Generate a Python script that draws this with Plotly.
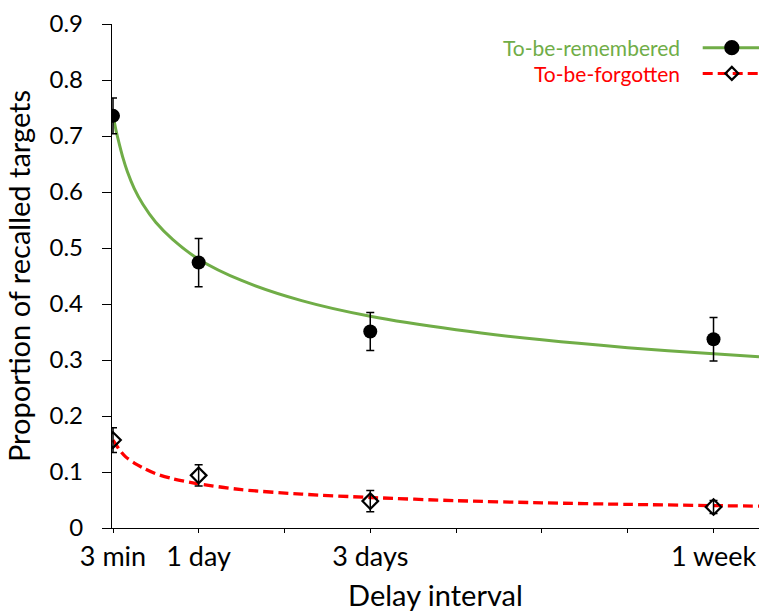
import plotly.graph_objects as go

# Delay intervals expressed in days (3 min = 3/1440 day)
delay_days = [3 / 1440, 1, 3, 7]
tick_days = [3 / 1440, 1, 2, 3, 4, 5, 6, 7]
tick_text = ["3 min", "1 day", "", "3 days", "", "", "", "1 week"]

# Mean proportion recalled and error-bar half widths
remembered_mean = [0.736, 0.474, 0.351, 0.337]
remembered_err = [0.032, 0.043, 0.034, 0.039]
forgotten_mean = [0.157, 0.094, 0.048, 0.0375]
forgotten_err = [0.022, 0.019, 0.019, 0.0115]

# Fitted forgetting curves, sampled along the delay axis
remembered_fit_days = [0.0021, 0.04, 0.08, 0.12, 0.17, 0.25, 0.35, 0.5, 0.7, 1.0,
                       1.5, 2.2, 3.0, 4.0, 5.0, 6.0, 7.0, 7.53]
remembered_fit_vals = [0.738, 0.708, 0.683, 0.660, 0.636, 0.606, 0.578, 0.546, 0.515, 0.480,
                       0.442, 0.406, 0.378, 0.354, 0.336, 0.322, 0.311, 0.306]
forgotten_fit_days = [0.0021, 0.04, 0.09, 0.15, 0.25, 0.37, 0.5, 0.7, 1.0, 1.5,
                      2.2, 3.0, 4.0, 5.0, 6.0, 7.0, 7.53]
forgotten_fit_vals = [0.157, 0.148, 0.137, 0.127, 0.116, 0.106, 0.097, 0.088, 0.079, 0.0685,
                      0.0605, 0.0545, 0.0488, 0.045, 0.0422, 0.040, 0.039]

GREEN = "#70AD47"
RED = "#FF0000"
FONT = "Lato"
RED_DASH = "10px,5px"

fig = go.Figure()

fig.add_trace(go.Scatter(
    x=remembered_fit_days, y=remembered_fit_vals, mode="lines",
    line=dict(color=GREEN, width=3, shape="spline", smoothing=0.8),
    showlegend=False, hoverinfo="skip"))
fig.add_trace(go.Scatter(
    x=forgotten_fit_days, y=forgotten_fit_vals, mode="lines",
    line=dict(color=RED, width=3.3, dash=RED_DASH, shape="spline", smoothing=0.8),
    showlegend=False, hoverinfo="skip"))

fig.add_trace(go.Scatter(
    x=delay_days, y=remembered_mean, mode="markers",
    marker=dict(symbol="circle", size=14, color="black"),
    error_y=dict(type="data", array=remembered_err, color="black", thickness=1.5, width=4),
    showlegend=False))
fig.add_trace(go.Scatter(
    x=delay_days, y=forgotten_mean, mode="markers",
    marker=dict(symbol="diamond-open", size=12, color="black", line=dict(width=2.2)),
    error_y=dict(type="data", array=forgotten_err, color="black", thickness=1.5, width=4),
    showlegend=False))

# Legend keys (line + marker) on an overlay axis in plot-fraction units
legend_rows = [
    ("To-be-remembered", GREEN, "solid", "circle", 0.953),
    ("To-be-forgotten", RED, RED_DASH, "diamond-open", 0.902),
]
for label, color, dash, symbol, ypos in legend_rows:
    fig.add_trace(go.Scatter(
        x=[0.913, 1.0], y=[ypos, ypos], mode="lines",
        line=dict(color=color, width=3, dash=dash),
        xaxis="x2", yaxis="y2", showlegend=False, hoverinfo="skip"))
    fig.add_trace(go.Scatter(
        x=[0.958], y=[ypos], mode="markers",
        marker=dict(symbol=symbol, size=13 if symbol == "circle" else 10, color="black",
                    line=dict(width=2.2, color="black")),
        xaxis="x2", yaxis="y2", showlegend=False, hoverinfo="skip"))
    fig.add_annotation(
        x=0.881, y=ypos, xref="x2", yref="y2", text=label, showarrow=False,
        xanchor="right", yanchor="middle", font=dict(family=FONT, size=21, color=color))

fig.update_layout(
    width=762, height=612,
    margin=dict(l=112, r=3, t=24, b=84),
    paper_bgcolor="white", plot_bgcolor="white",
    font=dict(family=FONT, size=24, color="black"),
    xaxis=dict(
        range=[-0.0096, 7.53], tickmode="array", tickvals=tick_days, ticktext=tick_text,
        tickfont=dict(size=27), automargin=False,
        showline=True, linecolor="black", linewidth=1.3, ticks="outside", ticklen=4,
        tickcolor="black", showgrid=False, zeroline=False,
        title=dict(text="Delay interval", standoff=19),
    ),
    yaxis=dict(
        range=[0, 0.9], dtick=0.1, tick0=0, automargin=False,
        showline=True, linecolor="black", linewidth=1.3, ticks="outside", ticklen=9,
        tickcolor="black", showgrid=False, zeroline=False, ticklabelstandoff=14,
        title=dict(text="Proportion of recalled targets", standoff=10),
    ),
    xaxis2=dict(overlaying="x", range=[0, 1], visible=False),
    yaxis2=dict(overlaying="y", range=[0, 1], visible=False),
)

fig.write_html("out.html")
